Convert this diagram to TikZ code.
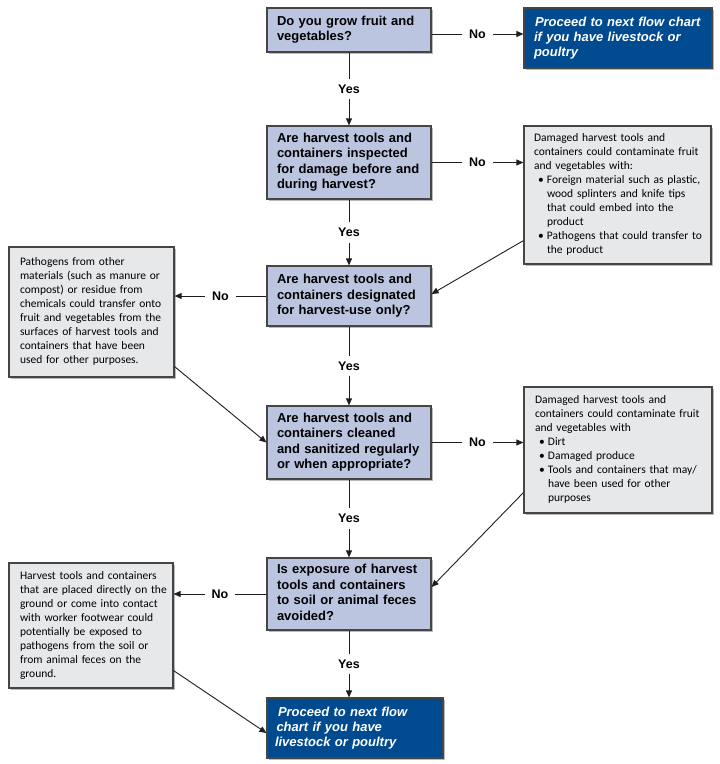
\documentclass[tikz,border=0pt]{standalone}
\usepackage{fontspec}
\setmainfont{Liberation Sans}
\newfontfamily\calfont{Carlito}
\usetikzlibrary{arrows.meta,shadows}
\definecolor{qfill}{HTML}{BCC5E0}
\definecolor{navy}{HTML}{004A8F}
\definecolor{gfill}{HTML}{E7E8EA}
\definecolor{edgec}{HTML}{454545}
\definecolor{linec}{HTML}{1E1E1E}
\newcommand\mybul{\makebox[13pt][l]{\hspace{4pt}•}}
\newcommand\myind{\hspace*{13pt}}
\newcommand\mylines[1]{\begin{tabular}{@{}l@{}}#1\end{tabular}}
\begin{document}
\begin{tikzpicture}[x=1pt,y=-1pt,
  shadowed/.style={drop shadow={shadow xshift=1.5pt,shadow yshift=-1.5pt,fill=black!45,opacity=0.6}},
  qbox/.style={draw=edgec,line width=1.2pt,fill=qfill,inner xsep=10pt,inner ysep=0pt,align=left,
    font=\bfseries\fontsize{13}{15.5}\selectfont,shadowed},
  bluebox/.style={draw=edgec,line width=1.2pt,fill=navy,text=white,inner ysep=0pt,align=left,
    font=\bfseries\itshape\fontsize{13}{15}\selectfont,shadowed},
  gbox/.style={draw=edgec,line width=1.2pt,fill=gfill,inner xsep=11pt,inner ysep=0pt,align=left,
    font=\calfont\fontsize{11.5}{14}\selectfont,shadowed},
  lab/.style={fill=white,font=\bfseries\fontsize{12.5}{14}\selectfont,inner xsep=7pt,inner ysep=6pt},
  conn/.style={draw=linec,line width=0.9pt,-{Triangle[length=7pt,width=6pt]}},
  plain/.style={draw=linec,line width=0.9pt}]
\useasboundingbox[fill=white] (0,0) rectangle (720,764);

% question boxes
\node[qbox,text width=144pt,minimum height=44pt] (Q1) at (349,30) {\mylines{Do you grow fruit and\\vegetables?}};
\node[qbox,text width=144pt,minimum height=73pt] (Q2) at (349,162.5) {\mylines{Are harvest tools and\\containers inspected\\for damage before and\\during harvest?}};
\node[qbox,text width=144pt,minimum height=60pt] (Q3) at (349,296) {\mylines{Are harvest tools and\\containers designated\\for harvest-use only?}};
\node[qbox,text width=144pt,minimum height=73pt] (Q4) at (349,442.5) {\mylines{Are harvest tools and\\containers cleaned\\and sanitized regularly\\or when appropriate?}};
\node[qbox,text width=144pt,minimum height=72pt] (Q5) at (349,594) {\mylines{Is exposure of harvest\\tools and containers\\to soil or animal feces\\avoided?}};

% blue end boxes
\node[bluebox,inner xsep=10pt,text width=168pt,minimum height=60pt] (T) at (618,38) {\mylines{\hspace*{1pt}Proceed to next flow chart\\if you have livestock or\\poultry}};
\node[bluebox,inner xsep=8pt,text width=160pt,minimum height=60pt] (F) at (355,728) {\mylines{\hspace*{3pt}Proceed to next flow\\\hspace*{1.5pt}chart if you have\\livestock or poultry}};

% grey explanation boxes
\node[gbox,text width=167pt,minimum height=138pt,inner xsep=10pt] (R1) at (617.5,195) {\mylines{Damaged harvest tools and\\containers could contaminate fruit\\and vegetables with:\\
\mybul Foreign material such as plastic,\\\myind wood splinters and knife tips\\\myind that could embed into the\\\myind product\\
\mybul Pathogens that could transfer to\\\myind the product}};
\node[gbox,text width=143pt,minimum height=130pt] (L1) at (91.5,312) {\mylines{Pathogens from other\\materials (such as manure or\\compost) or residue from\\chemicals could transfer onto\\fruit and vegetables from the\\surfaces of harvest tools and\\containers that have been\\used for other purposes.}};
\node[gbox,text width=166pt,minimum height=126pt] (R2) at (618,450) {\mylines{Damaged harvest tools and\\containers could contaminate fruit\\and vegetables with\\
\mybul Dirt\\\mybul Damaged produce\\\mybul Tools and containers that may/\\\myind have been used for other\\\myind purposes}};
\node[gbox,text width=142pt,minimum height=125pt] (L3) at (91,625.5) {\mylines{Harvest tools and containers\\that are placed directly on the\\ground or come into contact\\with worker footwear could\\potentially be exposed to\\pathogens from the soil or\\from animal feces on the\\ground.}};

% connectors: No branches
\coordinate (q1o) at ([yshift=-4pt]Q1.east);
\draw[conn] (q1o) -- (q1o -| T.west) node[lab,midway] {No};
\draw[conn] (Q2.east) -- (Q2.east -| R1.west) node[lab,midway] {No};
\draw[conn] (Q3.west) -- (Q3.west -| L1.east) node[lab,midway] {No};
\draw[conn] (Q4.east) -- (Q4.east -| R2.west) node[lab,midway] {No};
\draw[conn] (Q5.west) -- (Q5.west -| L3.east) node[lab,midway] {No};

% connectors: Yes branches
\draw[conn] (Q1) -- (Q2) node[lab,midway] {Yes};
\draw[conn] (Q2) -- (Q3) node[lab,midway] {Yes};
\draw[conn] (Q3) -- (Q4) node[lab,midway] {Yes};
\draw[conn] (Q4) -- (Q5) node[lab,midway] {Yes};
\draw[conn] (Q5.south) -- (Q5.south |- F.north) node[lab,midway] {Yes};

% connectors: back to the flow
\draw[conn] ([yshift=24pt]R1.south west) -- ([yshift=2pt]Q3.east);
\draw[conn] ([yshift=11pt]L1.south east) -- (Q4.west);
\draw[conn] ([yshift=21pt]R2.south west) -- ([yshift=7pt]Q5.east);
\draw[conn] ([yshift=18pt]L3.south east) -- ([yshift=-5pt]F.west);
\end{tikzpicture}
\end{document}
